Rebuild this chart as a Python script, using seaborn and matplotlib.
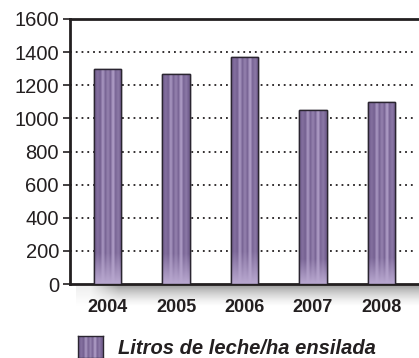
import numpy as np
import pandas as pd
import matplotlib
matplotlib.use("Agg")
import matplotlib.pyplot as plt
import seaborn as sns
from matplotlib.colors import LinearSegmentedColormap

years = ["2004", "2005", "2006", "2007", "2008"]
litros = [1300, 1270, 1370, 1050, 1100]
yticks = [0, 200, 400, 600, 800, 1000, 1200, 1400, 1600]
serie = "Litros de leche/ha ensilada"

sns.set_theme(style="white")
plt.rcParams["font.family"] = ["Liberation Sans", "DejaVu Sans"]

df = pd.DataFrame({"year": years, "value": litros})

fig = plt.figure(figsize=(4.19, 3.58), dpi=100)
ax = fig.add_axes([70 / 419, 1 - 284 / 358, 1 - 70 / 419, 265 / 358])

sns.barplot(data=df, x="year", y="value", color="#7b6796", width=0.4,
            edgecolor="#2a2530", linewidth=1.0, ax=ax, zorder=3)

# vertical stripe texture with a pale glow near the base
stripe = np.array([0.1, 0.25, 0.1, 0.7, 0.15, 0.45, 0.15, 0.8, 0.15, 0.35, 0.1])
rows = np.linspace(0, 1, 80)
fade = np.clip(rows / 0.14, 0, 1)[:, None]
tex = stripe[None, :] * fade + (1 - fade) * 0.85
cmap = LinearSegmentedColormap.from_list("lila", ["#6d588a", "#c4b4da"])
for p in ax.patches:
    x0, y0 = p.get_x(), p.get_y()
    w, h = p.get_width(), p.get_height()
    im = ax.imshow(tex, cmap=cmap, vmin=0, vmax=1, aspect="auto",
                   extent=[x0, x0 + w, y0, y0 + h], origin="lower",
                   interpolation="bilinear", zorder=3.5)
    im.set_clip_path(p)
    ax.add_patch(plt.Rectangle((x0, y0), w, h, fill=False,
                               edgecolor="#2a2530", linewidth=1.0, zorder=4))

ax.set_xlim(-0.55, 4.55)
ax.set_ylim(0, 1600)
ax.set_yticks(yticks)
ax.set_yticklabels([str(t) for t in yticks], fontsize=14.5, color="#231f20")
ax.set_xlabel("")
ax.set_ylabel("")
ax.tick_params(axis="y", left=True, length=5, width=1.2, pad=3, color="#231f20")
ax.tick_params(axis="x", bottom=False, pad=5)
for lbl in ax.get_xticklabels():
    lbl.set_fontweight("bold")
    lbl.set_fontsize(13)
    lbl.set_color("#231f20")

for t in yticks[1:-1]:
    ax.axhline(t, color="#231f20", linestyle=(0, (1, 2.2)), linewidth=1.3,
               zorder=1, xmax=0.985)

for side in ["top", "left", "bottom"]:
    ax.spines[side].set_visible(True)
    ax.spines[side].set_color("#231f20")
    ax.spines[side].set_linewidth(2)
ax.spines["right"].set_visible(False)
ax.set_facecolor("white")

# soft shadow under the base line
sh = fig.add_axes([76 / 419, 1 - 306 / 358, 1 - 76 / 419, 22 / 358], zorder=0)
g = np.linspace(0.5, 0, 40)[:, None] * np.ones((1, 12))
g[:, 0] *= 0.3
sh.imshow(g, cmap="Greys", vmin=0, vmax=1, aspect="auto", interpolation="bilinear",
          extent=[0, 1, 0, 1], origin="upper")
sh.set_axis_off()
ax.set_zorder(1)

# legend
lax = fig.add_axes([78 / 419, 0, 25 / 419, 22 / 358])
lax.imshow(np.tile(stripe, (5, 1)), cmap=cmap, vmin=0, vmax=1, aspect="auto",
           interpolation="bilinear", extent=[0, 1, 0, 1])
lax.set_xticks([])
lax.set_yticks([])
for s in lax.spines.values():
    s.set_color("#2a2530")
    s.set_linewidth(1)
fig.text(118 / 419, 1 - 349 / 358, serie, fontsize=14.5, fontweight="bold",
         fontstyle="italic", color="#231f20", va="center", ha="left")

fig.savefig("out.png", dpi=100)
